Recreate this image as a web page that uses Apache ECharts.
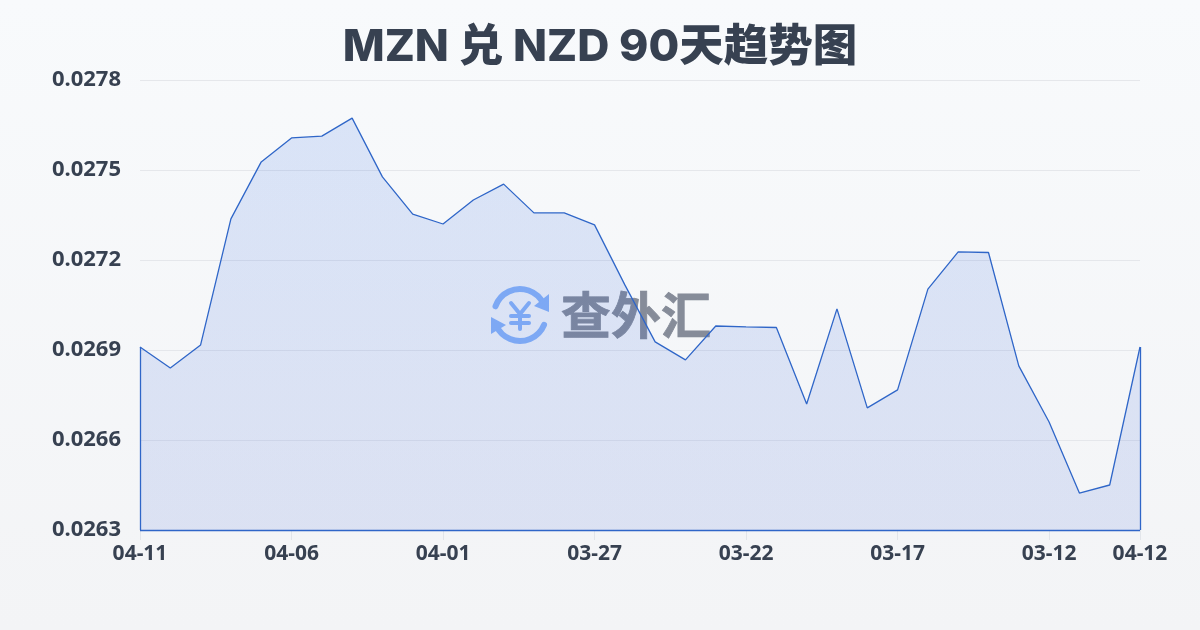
<!DOCTYPE html>
<html>
<head>
<meta charset="utf-8">
<style>html,body{margin:0;padding:0;background:#f8fafc}#c{width:1200px;height:630px}</style>
<script src="https://cdn.jsdelivr.net/npm/echarts@6/dist/echarts.min.js"></script>
</head>
<body>
<div id="c"></div>
<script>
const titleText = 'MZN 兑 NZD 90天趋势图';
const watermarkText = '查外汇';
const categories = ['04-11','04-10','04-09','04-08','04-07','04-06','04-05','04-04','04-03','04-02','04-01','03-31','03-30','03-29','03-28','03-27','03-26','03-25','03-24','03-23','03-22','03-21','03-20','03-19','03-18','03-17','03-16','03-15','03-14','03-13','03-12','03-11','03-10','04-12'];
const rates = [0.02691,0.02684,0.026917,0.027337,0.027527,0.027607,0.027613,0.027673,0.027477,0.027353,0.02732,0.0274,0.027453,0.027357,0.027357,0.027317,0.027117,0.026927,0.026867,0.02698,0.026977,0.026975,0.02672,0.027037,0.026707,0.026767,0.027103,0.027227,0.027225,0.026847,0.02666,0.026423,0.02645,0.02691];
const yMin = 0.0263, yMax = 0.0278, yStep = 0.0003;
const titleFont = 'Inter,"Noto Sans CJK SC",sans-serif';
const labelFont = '"Noto Sans",sans-serif';
const blue = '#2f66c8';
const iconBlue = '#8ab4f8';
const textDark = '#374151';
const last = categories.length - 1;

const chart = echarts.init(document.getElementById('c'), null, {renderer:'canvas'});
chart.setOption({
  animation:false,
  backgroundColor:new echarts.graphic.LinearGradient(0,0,0,1,[{offset:0,color:'#f8fafc'},{offset:1,color:'#f3f4f6'}]),
  title:{text:titleText,left:'center',top:20,textStyle:{fontFamily:titleFont,fontSize:44.5,fontWeight:800,color:textDark}},
  grid:{left:140,right:60,top:80,bottom:100},
  xAxis:{type:'category',data:categories,boundaryGap:false,
    axisLine:{show:false},
    axisTick:{show:true,length:10,alignWithLabel:true,lineStyle:{color:'#e2e5ea'},interval:i=>i%5===0||i===last},
    axisLabel:{margin:14,fontFamily:labelFont,fontSize:21,fontWeight:'bold',color:textDark,interval:i=>i%5===0||i===last,hideOverlap:false},
    splitLine:{show:false}},
  yAxis:{type:'value',min:yMin,max:yMax,interval:yStep,
    axisLine:{show:false},axisTick:{show:false},
    axisLabel:{margin:19,fontFamily:labelFont,fontSize:22,fontWeight:'bold',color:textDark,padding:[0,0,3,0],formatter:v=>v.toFixed(4)},
    splitLine:{lineStyle:{color:'#e5e7eb',width:1}}},
  graphic:[
    {type:'group',z:1,silent:true,children:[
      {type:'arc',shape:{cx:520,cy:315,r:26,startAngle:-2.8,endAngle:-0.42},style:{stroke:iconBlue,lineWidth:6,fill:null,lineCap:'round'}},
      {type:'arc',shape:{cx:520,cy:315,r:26,startAngle:0.39,endAngle:2.72},style:{stroke:iconBlue,lineWidth:6,fill:null,lineCap:'round'}},
      {type:'polygon',shape:{points:[[549,294],[549,312],[534,306]]},style:{fill:iconBlue}},
      {type:'polygon',shape:{points:[[491,317],[491,334],[506,325]]},style:{fill:iconBlue}},
      {type:'polyline',shape:{points:[[511,303],[520,314],[529,303]]},style:{stroke:iconBlue,lineWidth:4,fill:null,lineCap:'round'}},
      {type:'line',shape:{x1:511,y1:316,x2:529,y2:316},style:{stroke:iconBlue,lineWidth:4,lineCap:'round'}},
      {type:'line',shape:{x1:511,y1:323,x2:529,y2:323},style:{stroke:iconBlue,lineWidth:4,lineCap:'round'}},
      {type:'line',shape:{x1:520,y1:314,x2:520,y2:329},style:{stroke:iconBlue,lineWidth:4,lineCap:'round'}},
      {type:'text',style:{x:561,y:315,text:watermarkText,align:'left',verticalAlign:'middle',fontFamily:'"Noto Sans CJK SC",sans-serif',fontSize:50,fontWeight:700,fill:'#868c99',stroke:'#868c99',lineWidth:0.8}}
    ]}
  ],
  series:[{
    type:'line',data:rates,symbol:'none',smooth:false,z:3,
    lineStyle:{color:blue,width:1.3},
    areaStyle:{color:new echarts.graphic.LinearGradient(0,0,0,1,[{offset:0,color:'rgba(37,99,225,0.2)'},{offset:1,color:'rgba(37,80,210,0.17)'}]),origin:'start'},
    markLine:{silent:true,symbol:'none',animation:false,label:{show:false},lineStyle:{color:blue,width:1.3,type:'solid'},
      data:[
        [{coord:[0,rates[0]]},{coord:[0,yMin]}],
        [{coord:[0,yMin]},{coord:[last,yMin]}],
        [{coord:[last,yMin]},{coord:[last,rates[last]]}]
      ]}
  }]
});
</script>
</body>
</html>
